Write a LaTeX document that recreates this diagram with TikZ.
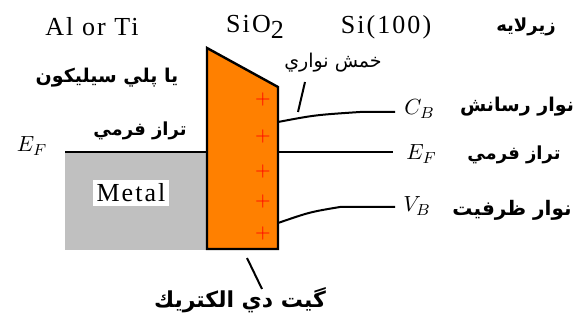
\documentclass[tikz,border=0pt]{standalone}
\usepackage{fontspec}
\setmainfont{Liberation Serif}
\newfontfamily\latinfont[LetterSpace=8]{Liberation Serif}
\newfontfamily\arabicfont[Script=Arabic]{DejaVu Sans}
\TeXXeTstate=1
\definecolor{metalgray}{RGB}{192,192,192}
\definecolor{oxorange}{RGB}{255,128,0}

\begin{document}
\begin{tikzpicture}[x=0.5pt,y=-0.5pt,
  lbl/.style={font=\latinfont\fontsize{13}{15}\selectfont},
  fab/.style={font=\arabicfont\bfseries\fontsize{#1}{13}\selectfont},
  fab/.default=9.5,
  fan/.style={font=\arabicfont\fontsize{9.5}{12}\selectfont},
  mlbl/.style={font=\fontsize{11}{13}\selectfont},
  band/.style={line width=1pt},
  lead/.style={line width=1pt}]
  \useasboundingbox (0,0) rectangle (585,320);
  % metal block (x 65..207, y 152..250)
  \fill[metalgray] (65,152) rectangle (207,250);
  \coordinate (efl) at (65,152);
  \coordinate (efm) at (207,152);
  \draw[band] (efl) -- (efm);
  \node[lbl,fill=white,inner sep=2pt] (metal) at (131,193) {Metal};
  % oxide (trapezoid, bent top)
  \draw[fill=oxorange,line width=1.2pt] (207,48) -- (278,87) -- (278,249) -- (207,249) -- cycle;
  % fixed charges in the oxide
  \foreach \y in {100,137,172,202,234}
    \node[red,inner sep=0pt] (q\y) at (263,\y) {$+$};
  % bands in Si
  \coordinate (cb0) at (278,122);
  \coordinate (cb1) at (395,112);
  \coordinate (ef0) at (278,152);
  \coordinate (ef1) at (393,152);
  \coordinate (vb0) at (278,223);
  \coordinate (vb1) at (395,207);
  \draw[band] (cb0) .. controls (315,115) .. (360,112) -- (cb1);
  \draw[band] (ef0) -- (ef1);
  \draw[band] (vb0) .. controls (310,212) .. (340,207) -- (vb1);
  \node[mlbl,anchor=west,inner sep=2pt] (cbl) at (400,109) {$C_B$};
  \node[mlbl,anchor=west,inner sep=2pt] (efr) at (402,154) {$E_F$};
  \node[mlbl,anchor=west,inner sep=2pt] (vbl) at (399,206) {$V_B$};
  \node[mlbl] (efll) at (32,146) {$E_F$};
  % top titles
  \node[lbl] (alti) at (92,27) {Al or Ti};
  \node[lbl] (sio) at (255,27) {SiO\raisebox{-0.45ex}{2}};
  \node[lbl] (si) at (386,27) {Si(100)};
  \node[fab=9] (sub) at (526,27) {\beginR زيرلايه\endR};
  % persian labels
  \node[fab] (poly) at (107,78) {\beginR يا پلي سيليكون\endR};
  \node[fab=9] (efa) at (140,131) {\beginR تراز فرمي\endR};
  \node[fab] (cba) at (517,107) {\beginR نوار رسانش\endR};
  \node[fab=9] (efb) at (514,155) {\beginR تراز فرمي\endR};
  \node[fab=10] (vba) at (512,210) {\beginR نوار ظرفيت\endR};
  \node[fan] (bend) at (333,63) {\beginR خمش نواري\endR};
  \node[fab=11] (gate) at (240,300) {\beginR گيت دي الكتريك\endR};
  % leaders
  \coordinate (bendp) at (298,112);
  \coordinate (gatep) at (247,258);
  \draw[lead] (305,82) -- (bendp);
  \draw[lead] (gatep) -- (262,289);
\end{tikzpicture}
\end{document}
